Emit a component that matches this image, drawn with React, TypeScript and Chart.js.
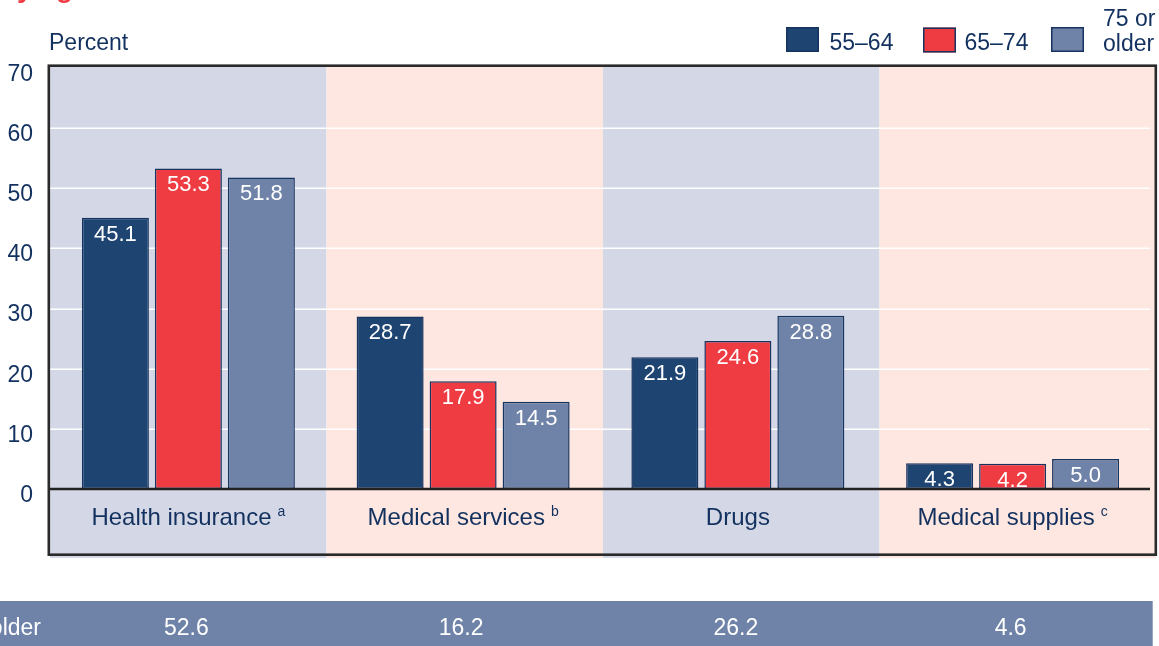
import { useEffect, useRef } from "react";
import { Chart, registerables } from "chart.js";

Chart.register(...registerables);

// Spending categories (with footnote markers) and age groups
const categories = ["Health insurance", "Medical services", "Drugs", "Medical supplies"];
const categoryNotes = ["a", "b", "", "c"];
const ageGroups = ["55–64", "65–74", "75 or older"];
const legendLines = [["55–64"], ["65–74"], ["75 or", "older"]];

// Percent of out-of-pocket health spending, by age group
const age55to64 = [45.1, 28.7, 21.9, 4.3];
const age65to74 = [53.3, 17.9, 24.6, 4.2];
const age75plus = [51.8, 14.5, 28.8, 5.0];

// Summary row underneath the chart
const summaryLabel = "65 or older";
const summaryValues = [52.6, 16.2, 26.2, 4.6];

const yTicks = [0, 10, 20, 30, 40, 50, 60, 70];
const yMin = -10.8;
const yMax = 70;
const titleText = "by age";
const yTitle = "Percent";

const FONT = '"Liberation Sans", Arial, Helvetica, sans-serif';
const NAVY_TEXT = "#12315f";
const BAR_BORDER = "#17335f";
const COLORS = ["#1e4472", "#ef3b42", "#6f82a8"];
const BAND_COLORS = ["#d4d8e6", "#fde7e0"];
const STRIP_COLOR = "#6f82a8";

// frame box around the plot, category bands split it evenly
const FRAME_LEFT = 50;
const FRAME_RIGHT = 1156;

const decorations = {
  id: "decorations",
  beforeDraw(chart: any) {
    const { ctx } = chart;
    const n = categories.length;
    const step = (FRAME_RIGHT - FRAME_LEFT) / n;
    ctx.save();
    for (let i = 0; i < n; i++) {
      ctx.fillStyle = BAND_COLORS[i % 2];
      ctx.fillRect(FRAME_LEFT + i * step, 66, step, 558 - 66);
    }
    ctx.restore();
  },
  beforeDatasetsDraw(chart: any) {
    const { ctx, chartArea } = chart;
    const y = chart.scales.y;
    ctx.save();
    ctx.strokeStyle = "#ffffff";
    ctx.lineWidth = 1.5;
    yTicks.forEach((v) => {
      if (v === 0 || v === yMax) return;
      const py = Math.round(y.getPixelForValue(v)) + 0.25;
      ctx.beginPath();
      ctx.moveTo(FRAME_LEFT, py);
      ctx.lineTo(chartArea.right, py);
      ctx.stroke();
    });
    ctx.restore();
  },
  afterDatasetsDraw(chart: any) {
    const { ctx, chartArea } = chart;
    const x = chart.scales.x;
    const y = chart.scales.y;
    ctx.save();

    // zero baseline
    const y0 = y.getPixelForValue(0);
    ctx.strokeStyle = "#222222";
    ctx.lineWidth = 2.5;
    ctx.beginPath();
    ctx.moveTo(48, y0);
    ctx.lineTo(chartArea.right, y0);
    ctx.stroke();

    // value labels inside the bar tops
    ctx.fillStyle = "#ffffff";
    ctx.font = `22px ${FONT}`;
    ctx.textAlign = "center";
    ctx.textBaseline = "alphabetic";
    chart.data.datasets.forEach((ds: any, di: number) => {
      const meta = chart.getDatasetMeta(di);
      meta.data.forEach((bar: any, i: number) => {
        ctx.fillText(Number(ds.data[i]).toFixed(1), bar.x, bar.y + 22.8);
      });
    });

    // frame
    ctx.strokeStyle = "#2a2a2a";
    ctx.lineWidth = 2.6;
    ctx.strokeRect(48.8, 65.7, 1107, 489);

    // category labels with footnote markers
    categories.forEach((c, i) => {
      const cx = x.getPixelForValue(i);
      ctx.font = `24px ${FONT}`;
      const w1 = ctx.measureText(c).width;
      const note = categoryNotes[i];
      ctx.font = `14px ${FONT}`;
      const w2 = note ? ctx.measureText(note).width + 6 : 0;
      const start = cx - (w1 + w2) / 2;
      ctx.fillStyle = NAVY_TEXT;
      ctx.textAlign = "left";
      ctx.font = `24px ${FONT}`;
      ctx.fillText(c, start, 524.5);
      if (note) {
        ctx.font = `14px ${FONT}`;
        ctx.fillText(note, start + w1 + 6, 516);
      }
    });

    // y axis title
    ctx.font = `23px ${FONT}`;
    ctx.fillStyle = NAVY_TEXT;
    ctx.textAlign = "left";
    ctx.fillText(yTitle, 49, 49.5);

    // legend
    const boxes = [
      { bx: 786, by: 27, tx: 829.5 },
      { bx: 923, by: 27.5, tx: 964.5 },
      { bx: 1051, by: 27, tx: 1103 },
    ];
    ageGroups.forEach((_, i) => {
      const b = boxes[i];
      ctx.fillStyle = COLORS[i];
      ctx.fillRect(b.bx, b.by, 33, 25);
      ctx.strokeStyle = BAR_BORDER;
      ctx.lineWidth = 1.5;
      ctx.strokeRect(b.bx + 0.75, b.by + 0.75, 31.5, 23.5);
      ctx.fillStyle = NAVY_TEXT;
      ctx.font = `23px ${FONT}`;
      const lines = legendLines[i];
      if (lines.length === 1) {
        ctx.fillText(lines[0], b.tx, 50);
      } else {
        ctx.fillText(lines[0], b.tx, 25.5);
        ctx.fillText(lines[1], b.tx, 50.5);
      }
    });

    // title (runs above the visible page)
    ctx.fillStyle = "#ef3b42";
    ctx.font = `bold 28px ${FONT}`;
    ctx.fillText(titleText, 0, -3);

    // summary strip
    ctx.fillStyle = STRIP_COLOR;
    ctx.fillRect(0, 601, 1152.7, 60);
    ctx.fillStyle = "#ffffff";
    ctx.font = `23px ${FONT}`;
    ctx.textAlign = "right";
    ctx.fillText(summaryLabel, 41, 634.5);
    ctx.textAlign = "center";
    summaryValues.forEach((v, i) => {
      ctx.fillText(v.toFixed(1), x.getPixelForValue(i) - 2, 634.5);
    });

    ctx.restore();
  },
};

export default function App() {
  const canvasRef = useRef<HTMLCanvasElement | null>(null);

  useEffect(() => {
    document.body.style.margin = "0";
    const canvas = canvasRef.current;
    if (!canvas) return;
    const series = [age55to64, age65to74, age75plus];
    const chart = new Chart(canvas, {
      type: "bar",
      data: {
        labels: categories,
        datasets: series.map((data, i) => ({
          label: ageGroups[i],
          data,
          backgroundColor: COLORS[i],
          borderColor: BAR_BORDER,
          borderWidth: 1.5,
          borderSkipped: false,
          categoryPercentage: 0.797,
          barPercentage: 0.918,
        })),
      },
      options: {
        animation: false,
        responsive: false,
        devicePixelRatio: 1,
        layout: { padding: { top: 68, bottom: 92, left: 0, right: 9 } },
        plugins: {
          legend: { display: false },
          tooltip: { enabled: false },
          title: { display: false },
        },
        scales: {
          x: { display: false },
          y: {
            min: yMin,
            max: yMax,
            afterFit: (s: any) => {
              s.width = 51;
            },
            afterBuildTicks: (s: any) => {
              s.ticks = yTicks.map((v) => ({ value: v }));
            },
            grid: { display: false, drawTicks: false },
            border: { display: false },
            ticks: {
              padding: 18,
              labelOffset: 6.5,
              color: NAVY_TEXT,
              font: { family: FONT, size: 23 },
              callback: (v: any) => String(v),
            },
          },
        },
      },
      plugins: [decorations],
    });
    return () => chart.destroy();
  }, []);

  return (
    <div style={{ position: "fixed", left: 0, top: 0, width: 1159, height: 646, background: "#ffffff" }}>
      <canvas ref={canvasRef} width={1159} height={646} style={{ display: "block" }} />
    </div>
  );
}
